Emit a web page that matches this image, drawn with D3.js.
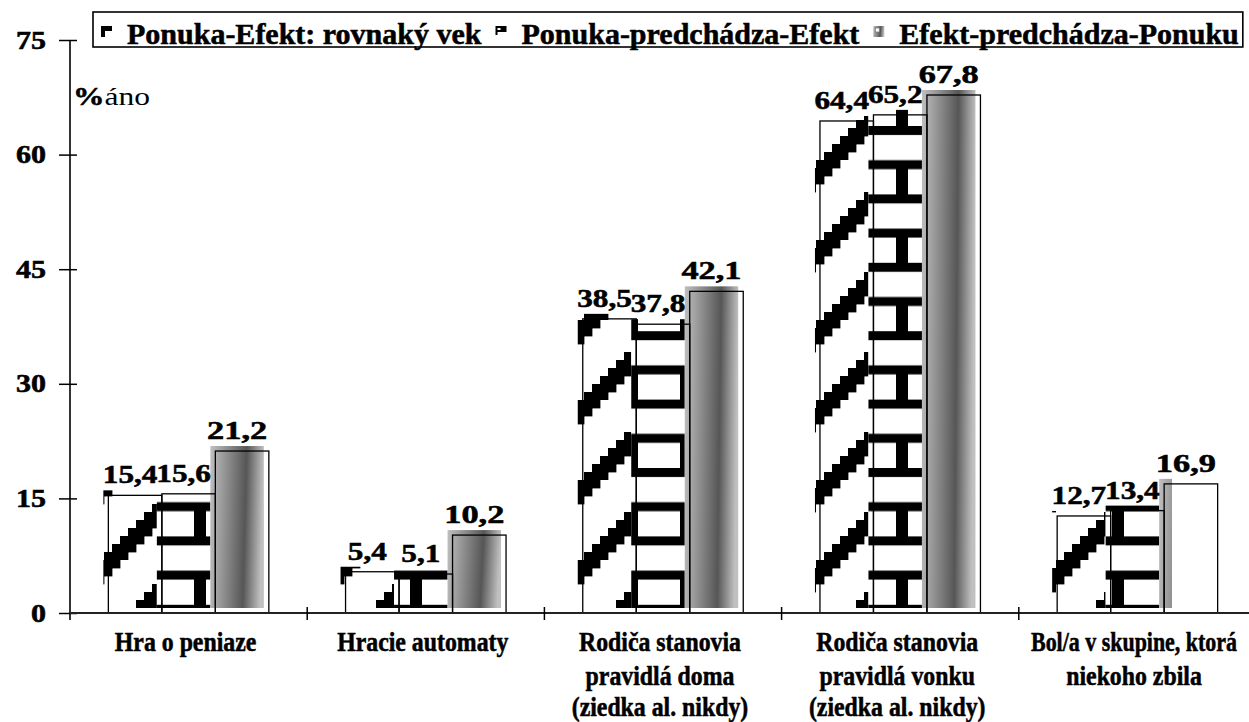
<!DOCTYPE html>
<html>
<head>
<meta charset="utf-8">
<script src="https://cdn.jsdelivr.net/npm/d3@7"></script>
<style>
  body { margin: 0; background: #fff; }
  svg { display: block; }
  text { font-family: "Liberation Serif", "Times New Roman", serif; fill: #000; }
  text.heavy { font-weight: bold; stroke: #000; stroke-width: 0.55px; }
</style>
</head>
<body>
<svg id="chart" width="1249" height="722"></svg>
<script>
// ---- data ----
const categoryLines = [
  ["Hra o peniaze"],
  ["Hracie automaty"],
  ["Rodiča stanovia", "pravidlá doma", "(ziedka al. nikdy)"],
  ["Rodiča stanovia", "pravidlá vonku", "(ziedka al. nikdy)"],
  ["Bol/a v skupine, ktorá", "niekoho zbila"]
];
const seriesNames = [
  "Ponuka-Efekt: rovnaký vek",
  "Ponuka-predchádza-Efekt",
  "Efekt-predchádza-Ponuku"
];
const sameAge      = [15.4, 5.4, 38.5, 64.4, 12.7];
const offerFirst   = [15.6, 5.1, 37.8, 65.2, 13.4];
const effectFirst  = [21.2, 10.2, 42.1, 67.8, 16.9];
const seriesValues = [sameAge, offerFirst, effectFirst];
const yTicks = [0, 15, 30, 45, 60, 75];
const yUnitLabel = ["%", "áno"];

// ---- layout ----
const W = 1249, H = 722;
const plotLeft = 70, plotRight = 1256, yTop = 40, yBase = 613;
const SHIFT = 5;              // fills are drawn offset up-left from their outlines
const fillClipRight = 1172;   // fill layer is cut off on the right

const svg = d3.select("#chart");
const catKeys = categoryLines.map(l => l.join(" "));

const y = d3.scaleLinear().domain([0, 75]).range([yBase, yTop]);
const x0 = d3.scaleBand().domain(catKeys).range([plotLeft, plotRight]).paddingInner(0).paddingOuter(0);
const x1 = d3.scaleBand().domain(d3.range(seriesNames.length)).range([0, x0.bandwidth()])
  .paddingInner(0).paddingOuter(0.717);

const fmt = v => d3.format(".1f")(v).replace(".", ",");

function squeeze(sel, factor, maxRight) {
  sel.each(function () {
    const el = d3.select(this);
    let n = this.getComputedTextLength() * factor;
    if (maxRight !== undefined) {
      const cx = +el.attr("x");
      n = Math.min(n, 2 * (maxRight - cx));
    }
    el.attr("textLength", n).attr("lengthAdjust", "spacingAndGlyphs");
  });
}

// ---- fills: patterns and gradient ----
const defs = svg.append("defs");

// wide upward staircase diagonal
const cell = 8, cells = 10;
const stairs = defs.append("pattern").attr("id", "pat-stairs")
  .attr("patternUnits", "userSpaceOnUse").attr("width", cell * cells).attr("height", cell * cells)
  .attr("patternTransform", "translate(16,0)");
stairs.append("rect").attr("width", cell * cells).attr("height", cell * cells).attr("fill", "#fff");
stairs.selectAll("rect.cell")
  .data(d3.cross(d3.range(cells), d3.range(cells)).filter(([i, j]) => ((i + j) % cells) < 3))
  .join("rect").attr("class", "cell")
  .attr("x", d => d[0] * cell).attr("y", d => d[1] * cell)
  .attr("width", cell + 0.4).attr("height", cell + 0.4).attr("fill", "#000");

// horizontal bricks with alternating stems
const bw = 54, bh = 68.4;
const brick = defs.append("pattern").attr("id", "pat-brick")
  .attr("patternUnits", "userSpaceOnUse").attr("width", bw).attr("height", bh)
  .attr("patternTransform", "translate(173,126)");
brick.append("rect").attr("width", bw).attr("height", bh).attr("fill", "#fff");
brick.append("rect").attr("x", 0).attr("y", 0).attr("width", bw).attr("height", 9).attr("fill", "#000");
brick.append("rect").attr("x", 0).attr("y", bh / 2).attr("width", bw).attr("height", 9).attr("fill", "#000");
brick.append("rect").attr("x", bw / 2 - 6).attr("y", bh / 2 + 8).attr("width", 12).attr("height", bh / 2 - 7).attr("fill", "#000");

const grad = defs.append("linearGradient").attr("id", "grad-shade")
  .attr("x1", 0).attr("y1", 0).attr("x2", 1).attr("y2", 0.08);
[[0, "#c0c0c0"], [0.35, "#8a8a8a"], [0.68, "#565656"], [1, "#c0c0c0"]]
  .forEach(([o, c]) => grad.append("stop").attr("offset", o).attr("stop-color", c));

defs.append("clipPath").attr("id", "fill-clip")
  .append("rect").attr("x", 0).attr("y", 0).attr("width", fillClipRight).attr("height", H);

const fillIds = ["url(#pat-stairs)", "url(#pat-brick)", "url(#grad-shade)"];

const bars = categoryLines.flatMap((l, i) =>
  seriesValues.map((vals, s) => ({ cat: catKeys[i], s, value: vals[i] })));

// ---- bars ----
const fillLayer = svg.append("g").attr("clip-path", "url(#fill-clip)");
fillLayer.selectAll("rect").data(bars).join("rect")
  .attr("x", d => x0(d.cat) + x1(d.s) - SHIFT)
  .attr("y", d => y(d.value) - SHIFT)
  .attr("width", x1.bandwidth())
  .attr("height", d => yBase - y(d.value))
  .attr("fill", d => fillIds[d.s]);

svg.append("g").selectAll("rect").data(bars).join("rect")
  .attr("x", d => x0(d.cat) + x1(d.s))
  .attr("y", d => y(d.value))
  .attr("width", x1.bandwidth())
  .attr("height", d => yBase - y(d.value))
  .attr("fill", "none").attr("stroke", "#000").attr("stroke-width", 1.3);

// value labels
const valueLabels = svg.append("g").selectAll("text").data(bars).join("text")
  .attr("class", "heavy")
  .attr("x", d => x0(d.cat) + x1(d.s) + x1.bandwidth() / 2 - SHIFT)
  .attr("y", d => y(d.value) - SHIFT - 7)
  .attr("text-anchor", "middle")
  .style("font-size", "26px")
  .text(d => fmt(d.value));
valueLabels.each(function (d) {
  const n = this.getComputedTextLength();
  d3.select(this).attr("textLength", n * (d.s === 2 ? 1.32 : 1.2)).attr("lengthAdjust", "spacingAndGlyphs");
});

// ---- axes ----
const yAxis = svg.append("g").attr("transform", `translate(${plotLeft},0)`)
  .call(d3.axisLeft(y).tickValues(yTicks).tickSize(11).tickPadding(13).tickFormat(d3.format("d")));
yAxis.select(".domain").remove();
yAxis.selectAll(".tick line").attr("x1", 7).attr("stroke", "#000").attr("stroke-width", 1.5);
yAxis.selectAll(".tick text")
  .attr("class", "heavy")
  .attr("dy", null).attr("y", 8)
  .style("font-family", "'Liberation Serif', 'Times New Roman', serif")
  .style("font-size", "25px").attr("fill", "#000");
squeeze(yAxis.selectAll(".tick text"), 1.2);

svg.append("line").attr("x1", plotLeft).attr("x2", plotLeft).attr("y1", yTop).attr("y2", yBase + 7)
  .attr("stroke", "#000").attr("stroke-width", 1.6);
svg.append("line").attr("x1", plotLeft).attr("x2", W).attr("y1", yBase).attr("y2", yBase)
  .attr("stroke", "#222").attr("stroke-width", 2);
svg.append("g").selectAll("line").data(catKeys.slice(1)).join("line")
  .attr("x1", d => x0(d)).attr("x2", d => x0(d))
  .attr("y1", yBase - 6).attr("y2", yBase + 7)
  .attr("stroke", "#000").attr("stroke-width", 1.5);

// unit label
const unit = svg.append("text").attr("x", 73).attr("y", 105).style("font-size", "25px");
unit.append("tspan").style("font-weight", "bold").style("stroke", "#000").style("stroke-width", "0.5px").text(yUnitLabel[0]);
unit.append("tspan").text(yUnitLabel[1]);
unit.attr("textLength", 77).attr("lengthAdjust", "spacingAndGlyphs");

// category labels
const lineBase = [651, 685, 716];
const catG = svg.append("g");
categoryLines.forEach((lines, i) => {
  lines.forEach((t, k) => {
    catG.append("text")
      .attr("class", "heavy")
      .attr("x", Math.min(x0(catKeys[i]) + x0.bandwidth() / 2 - 3, W - 115))
      .attr("y", lineBase[k])
      .attr("text-anchor", "middle")
      .style("font-size", "28px")
      .text(t);
  });
});
squeeze(catG.selectAll("text"), 0.85, W - 12);

// ---- legend ----
const legendLeft = 93, legendTop = 12, legendBottom = 47;
const legend = svg.append("g");
const legendBox = legend.append("rect")
  .attr("x", legendLeft).attr("y", legendTop).attr("height", legendBottom - legendTop)
  .attr("fill", "#fff").attr("stroke", "#000").attr("stroke-width", 1.6);

function swatch(g, s, x) {
  const sy = 26;
  if (s === 0) {
    g.append("rect").attr("x", x).attr("y", sy).attr("width", 11).attr("height", 5).attr("fill", "#000");
    g.append("rect").attr("x", x).attr("y", sy).attr("width", 4).attr("height", 11).attr("fill", "#000");
  } else if (s === 1) {
    g.append("rect").attr("x", x).attr("y", sy).attr("width", 11).attr("height", 6).attr("fill", "#000");
    g.append("rect").attr("x", x + 2).attr("y", sy + 2).attr("width", 3).attr("height", 2).attr("fill", "#fff");
    g.append("rect").attr("x", x).attr("y", sy + 6).attr("width", 2).attr("height", 3).attr("fill", "#000");
  } else {
    g.append("rect").attr("x", x).attr("y", sy).attr("width", 11).attr("height", 11).attr("fill", "url(#grad-shade)");
    g.append("rect").attr("x", x + 2).attr("y", sy + 2).attr("width", 4).attr("height", 4).attr("fill", "#fff")
      .attr("stroke", "#777").attr("stroke-width", 0.8);
  }
}

let cursor = legendLeft + 8;
seriesNames.forEach((name, s) => {
  swatch(legend, s, cursor);
  const t = legend.append("text").attr("class", "heavy").attr("x", cursor + 26).attr("y", 44)
    .style("font-size", "30px").text(name);
  cursor = cursor + 26 + t.node().getComputedTextLength() + 14;
});
legendBox.attr("width", cursor - 14 + 4 - legendLeft);
</script>
</body>
</html>
